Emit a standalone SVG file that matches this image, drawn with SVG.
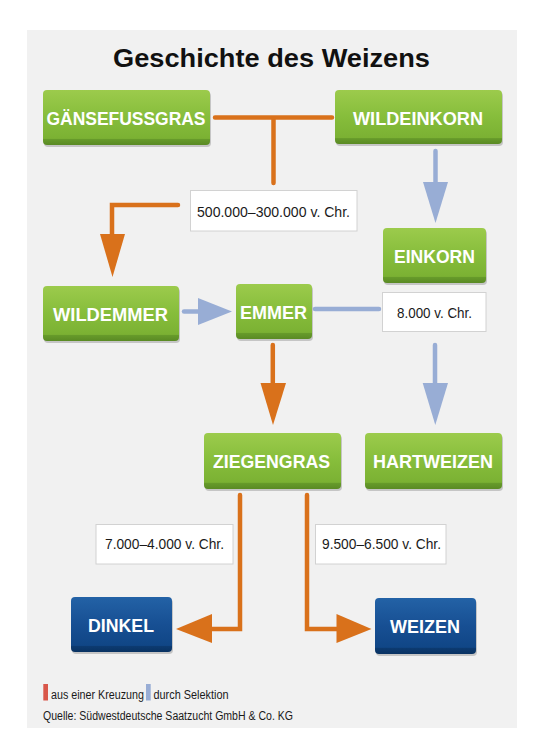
<svg xmlns="http://www.w3.org/2000/svg" width="543" height="751" viewBox="0 0 543 751">
<defs>
<linearGradient id="gGreen" x1="0" y1="0" x2="0" y2="1">
<stop offset="0" stop-color="#9ccb4c"/>
<stop offset="0.5" stop-color="#86bd3b"/>
<stop offset="0.88" stop-color="#7bb133"/>
<stop offset="0.9" stop-color="#669a2a"/>
<stop offset="1" stop-color="#5a8a24"/>
</linearGradient>
<linearGradient id="gBlue" x1="0" y1="0" x2="0" y2="1">
<stop offset="0" stop-color="#2362a6"/>
<stop offset="0.5" stop-color="#174f93"/>
<stop offset="0.88" stop-color="#104686"/>
<stop offset="0.9" stop-color="#0c3a70"/>
<stop offset="1" stop-color="#093262"/>
</linearGradient>
<style>
.panel{fill:#f1f1f1}
.title{font-family:"Liberation Sans",Arial,sans-serif;font-weight:bold;font-size:26px;fill:#111}
.shadow{fill:#000;opacity:0.18}
.green{fill:url(#gGreen)}
.blue{fill:url(#gBlue)}
.btxt{font-family:"Liberation Sans",Arial,sans-serif;font-weight:bold;font-size:18px;fill:#fff;text-anchor:middle}
.lbox{fill:#fff;stroke:#d2d2d2;stroke-width:1}
.ltxt{font-family:"Liberation Sans",Arial,sans-serif;font-size:15px;fill:#1a1a1a}
.or{fill:none;stroke:#d9711b;stroke-width:4.5;stroke-linecap:round;stroke-linejoin:miter}
.orh{fill:#d9711b}
.bl{fill:none;stroke:#98add5;stroke-width:4.5;stroke-linecap:round}
.blh{fill:#98add5}
.small{font-family:"Liberation Sans",Arial,sans-serif;font-size:12.5px;fill:#1a1a1a}
</style>
</defs>
<rect x="0" y="0" width="543" height="751" fill="#ffffff"/>
<rect class="panel" x="27" y="30" width="490" height="698"/>
<text class="title" x="113" y="67" textLength="317" lengthAdjust="spacingAndGlyphs">Geschichte des Weizens</text>

<g id="connectors">
<path class="or" d="M215,117.5 H332 M273.5,117.5 V183"/>
<path class="or" d="M178,205 H112 V236"/>
<polygon class="orh" points="100,234 125,234 112.5,277"/>
<path class="bl" d="M184,311.5 H200"/>
<polygon class="blh" points="198,298 198,325 232,311.5"/>
<path class="bl" d="M315,309 H379"/>
<path class="bl" d="M435.5,151 V184"/>
<polygon class="blh" points="423,182 448,182 435.5,223"/>
<path class="bl" d="M435,345 V385"/>
<polygon class="blh" points="422.7,383 448,383 435.3,425"/>
<path class="or" d="M272.8,345 V385"/>
<polygon class="orh" points="260.5,383 286,383 273,425"/>
<path class="or" d="M240,495 V629 H210"/>
<polygon class="orh" points="212,614 212,643 176,629"/>
<path class="or" d="M307,495 V629 H338"/>
<polygon class="orh" points="336.5,614 336.5,643 371.5,629"/>
</g>

<g id="gaensefussgras">
<rect class="shadow" x="44" y="92" width="167" height="55" rx="4"/>
<rect class="green" x="43" y="90" width="167" height="55" rx="4"/>
<text class="btxt" x="126" y="125" textLength="159" lengthAdjust="spacingAndGlyphs">GÄNSEFUSSGRAS</text>
</g>
<g id="wildeinkorn">
<rect class="shadow" x="336" y="92" width="167" height="54" rx="4"/>
<rect class="green" x="335" y="90" width="167" height="54" rx="4"/>
<text class="btxt" x="418" y="124.5" textLength="130" lengthAdjust="spacingAndGlyphs">WILDEINKORN</text>
</g>
<g id="label1">
<rect class="lbox" x="190.5" y="190.5" width="166.5" height="40.5"/>
<text class="ltxt" x="197" y="216.5" textLength="153" lengthAdjust="spacingAndGlyphs">500.000–300.000 v. Chr.</text>
</g>
<g id="einkorn">
<rect class="shadow" x="384" y="230" width="103" height="55" rx="4"/>
<rect class="green" x="383" y="228" width="103" height="55" rx="4"/>
<text class="btxt" x="434.5" y="262.5" textLength="81" lengthAdjust="spacingAndGlyphs">EINKORN</text>
</g>
<g id="wildemmer">
<rect class="shadow" x="44" y="288" width="136" height="55" rx="4"/>
<rect class="green" x="43" y="286" width="136" height="55" rx="4"/>
<text class="btxt" x="110.5" y="320.5" textLength="115" lengthAdjust="spacingAndGlyphs">WILDEMMER</text>
</g>
<g id="emmer">
<rect class="shadow" x="237" y="286" width="76" height="55" rx="4"/>
<rect class="green" x="236" y="284" width="76" height="55" rx="4"/>
<text class="btxt" x="273.5" y="318.5" textLength="67" lengthAdjust="spacingAndGlyphs">EMMER</text>
</g>
<g id="label2">
<rect class="lbox" x="382.5" y="292.5" width="103.5" height="39"/>
<text class="ltxt" x="397" y="317.5" textLength="75" lengthAdjust="spacingAndGlyphs">8.000 v. Chr.</text>
</g>
<g id="ziegengras">
<rect class="shadow" x="205" y="435" width="137" height="56" rx="4"/>
<rect class="green" x="204" y="433" width="137" height="56" rx="4"/>
<text class="btxt" x="271.5" y="467.5" textLength="117" lengthAdjust="spacingAndGlyphs">ZIEGENGRAS</text>
</g>
<g id="hartweizen">
<rect class="shadow" x="366" y="435" width="137" height="56" rx="4"/>
<rect class="green" x="365" y="433" width="137" height="56" rx="4"/>
<text class="btxt" x="433" y="467.5" textLength="120" lengthAdjust="spacingAndGlyphs">HARTWEIZEN</text>
</g>
<g id="label3">
<rect class="lbox" x="96" y="524.5" width="137" height="39.5"/>
<text class="ltxt" x="105" y="549" textLength="119" lengthAdjust="spacingAndGlyphs">7.000–4.000 v. Chr.</text>
</g>
<g id="label4">
<rect class="lbox" x="315.5" y="524.5" width="130.5" height="39.5"/>
<text class="ltxt" x="322" y="549" textLength="119" lengthAdjust="spacingAndGlyphs">9.500–6.500 v. Chr.</text>
</g>
<g id="dinkel">
<rect class="shadow" x="72" y="599" width="101" height="55" rx="4"/>
<rect class="blue" x="71" y="597" width="101" height="55" rx="4"/>
<text class="btxt" x="121" y="631.5" textLength="66" lengthAdjust="spacingAndGlyphs">DINKEL</text>
</g>
<g id="weizen">
<rect class="shadow" x="376" y="600" width="101" height="56" rx="4"/>
<rect class="blue" x="375" y="598" width="101" height="56" rx="4"/>
<text class="btxt" x="425" y="633" textLength="70" lengthAdjust="spacingAndGlyphs">WEIZEN</text>
</g>

<g id="legend">
<rect x="43.3" y="684" width="4.7" height="16.5" fill="#d9574a"/>
<text class="small" x="51" y="699" textLength="93" lengthAdjust="spacingAndGlyphs">aus einer Kreuzung</text>
<rect x="146" y="684" width="4.7" height="16.5" fill="#98add5"/>
<text class="small" x="153.5" y="699" textLength="75" lengthAdjust="spacingAndGlyphs">durch Selektion</text>
<text class="small" x="43" y="720" textLength="250" lengthAdjust="spacingAndGlyphs">Quelle: Südwestdeutsche Saatzucht GmbH &amp; Co. KG</text>
</g>
</svg>
